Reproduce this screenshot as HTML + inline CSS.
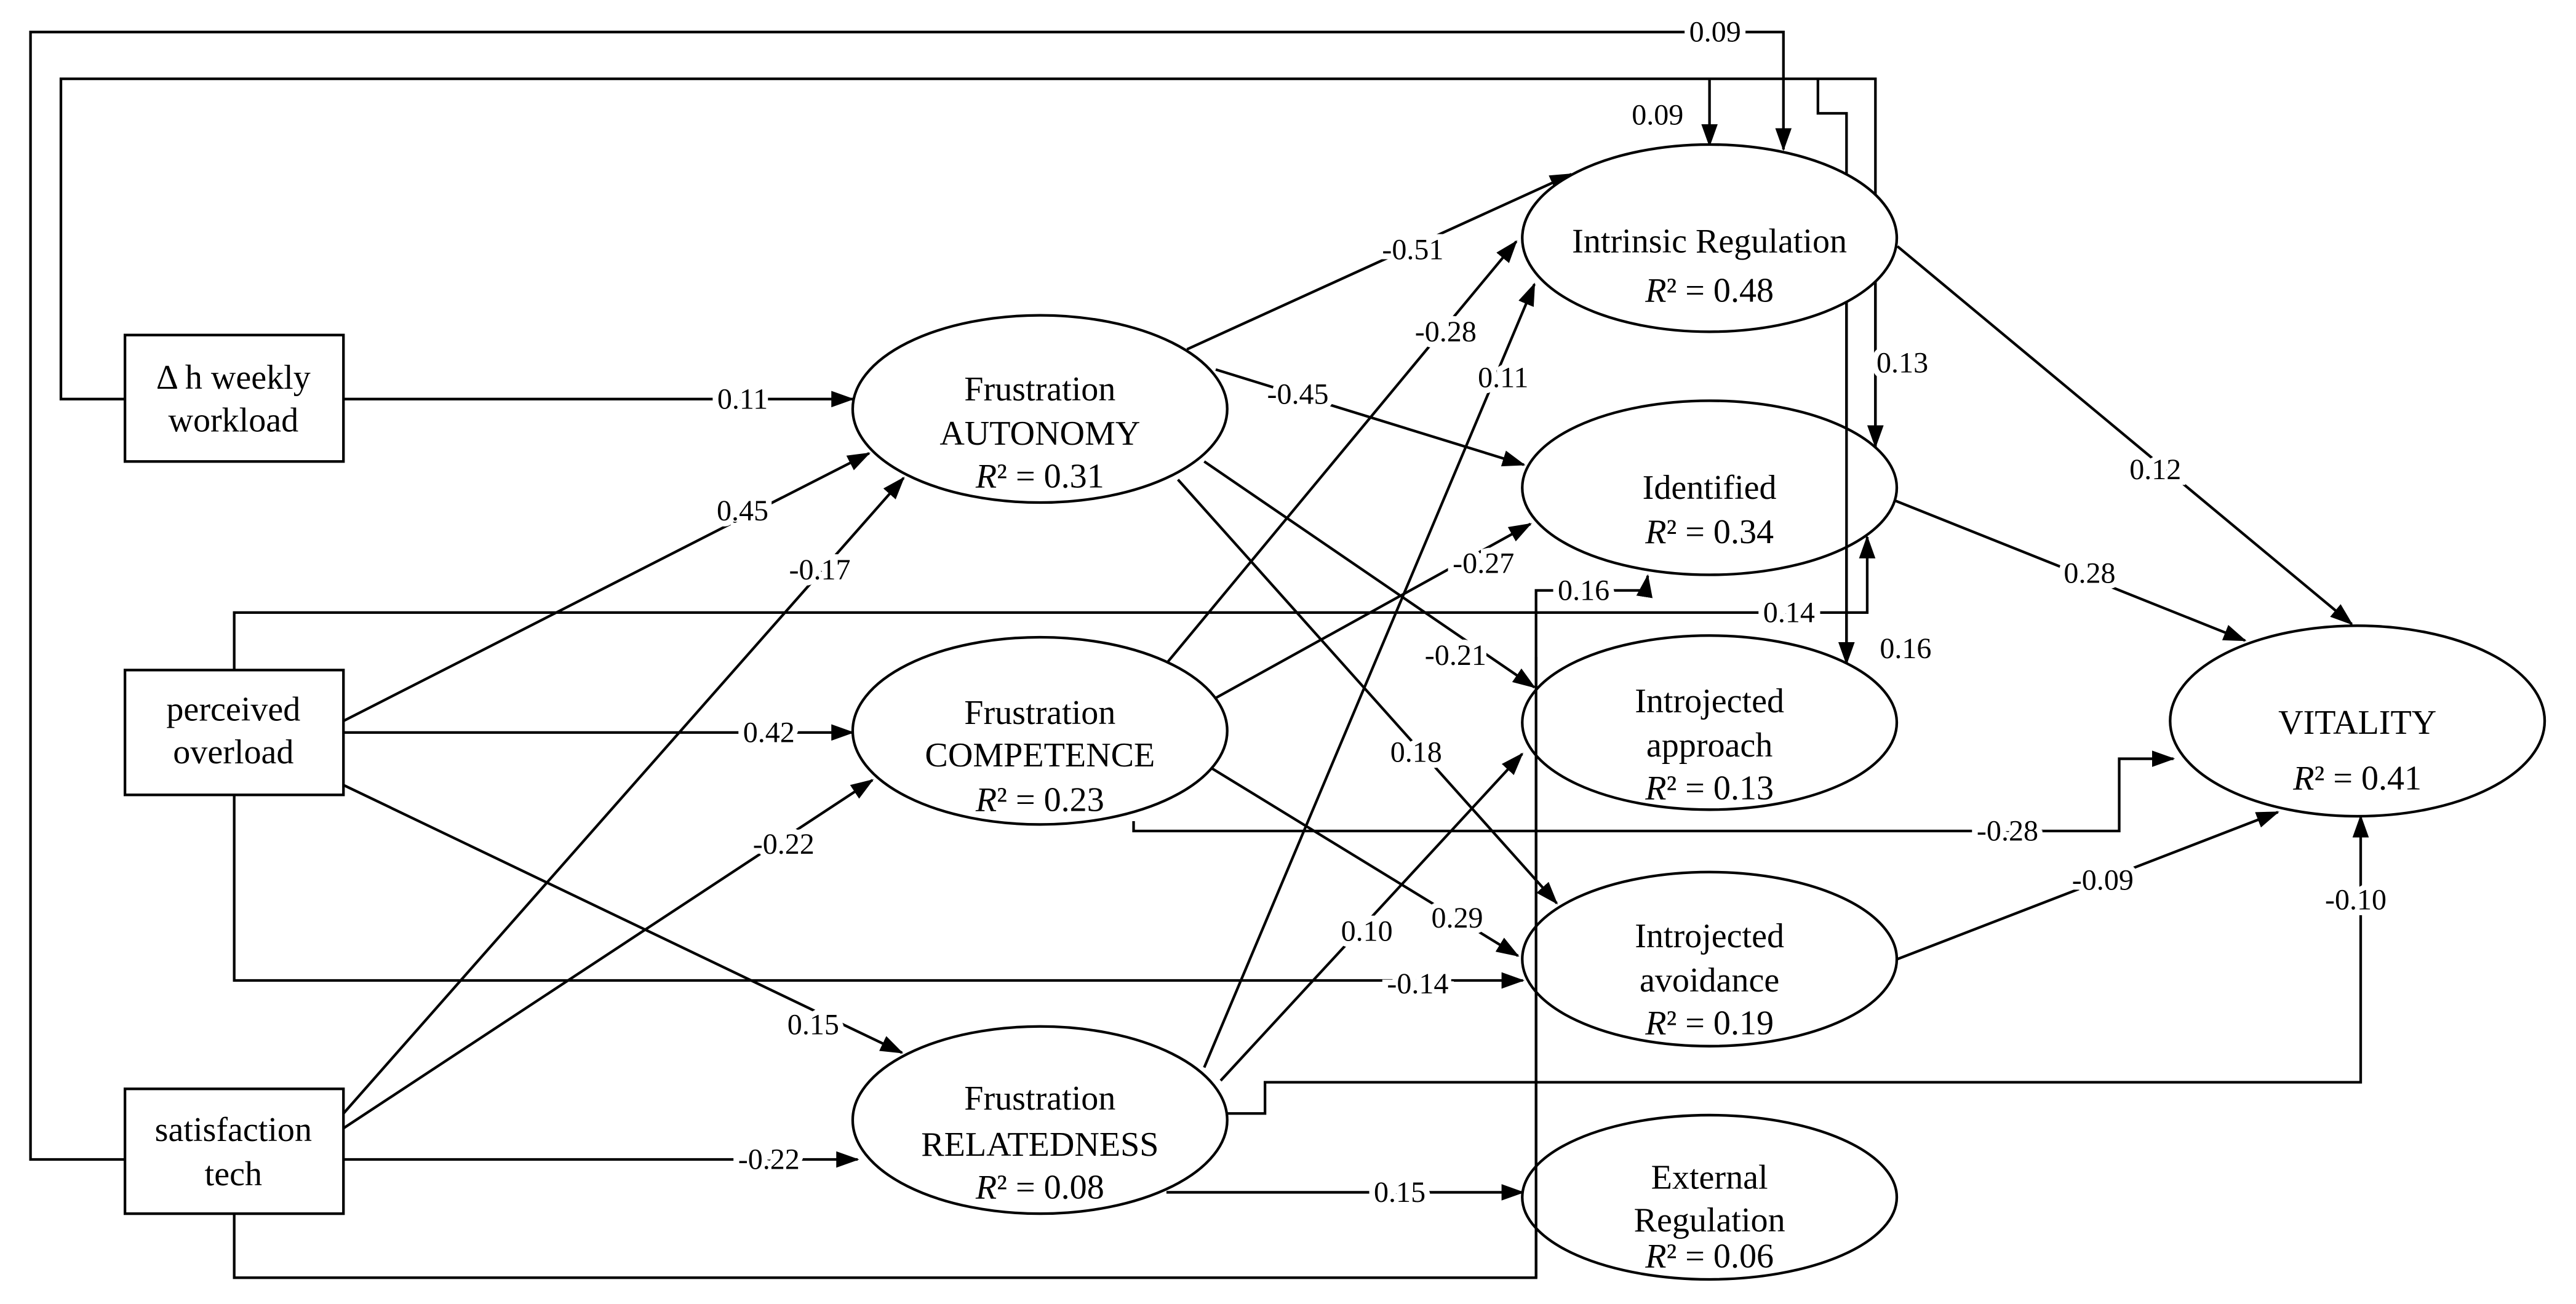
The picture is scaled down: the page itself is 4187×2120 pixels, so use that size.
<!DOCTYPE html>
<html><head><meta charset="utf-8"><style>
html,body{margin:0;padding:0;background:#fff;}
svg{display:block;}
text{font-family:"Liberation Serif",serif;fill:#000;}
.n{font-size:21px;text-anchor:middle;dominant-baseline:central;}
.l{font-size:18px;text-anchor:middle;dominant-baseline:central;stroke:#fff;stroke-width:7px;paint-order:stroke;}
</style></head><body>
<svg width="4187" height="2120" viewBox="0 0 1568 794" xmlns="http://www.w3.org/2000/svg">
<defs>
<marker id="a" markerUnits="userSpaceOnUse" markerWidth="14" markerHeight="10" refX="13" refY="5" orient="auto">
<path d="M0,0 L14,5 L0,10 z" fill="#000"/></marker>
</defs>
<rect width="1568" height="794" fill="#fff"/>
<g fill="none" stroke="#000" stroke-width="1.6">
<path d="M77,706 H18.5 V19.5 H1085.6 V91" marker-end="url(#a)"/>
<path d="M77,243 H37 V48 H1141.6 V272" marker-end="url(#a)"/>
<path d="M1040.6,48 V88.6" marker-end="url(#a)"/>
<path d="M1106.6,48 V69 H1124 V404" marker-end="url(#a)"/>
<path d="M142.5,408 V373 H1136.6 V327" marker-end="url(#a)"/>
<path d="M142.5,484 V597 H927" marker-end="url(#a)"/>
<path d="M142.5,739 V778 H935 V359.5 H1001.6 L1003,350.6" marker-end="url(#a)"/>
<path d="M209,243 H519" marker-end="url(#a)"/>
<path d="M209,439 L529,276" marker-end="url(#a)"/>
<path d="M209,678 L550,291" marker-end="url(#a)"/>
<path d="M209,446 H519" marker-end="url(#a)"/>
<path d="M209,687 L531,475" marker-end="url(#a)"/>
<path d="M209,478 L549,641" marker-end="url(#a)"/>
<path d="M209,706 H522" marker-end="url(#a)"/>
<path d="M722.5,212.7 L956.6,106" marker-end="url(#a)"/>
<path d="M740,225 L927.6,283" marker-end="url(#a)"/>
<path d="M733,281 L934,418.5" marker-end="url(#a)"/>
<path d="M717,292 L947.6,550" marker-end="url(#a)"/>
<path d="M710,404 L923,147" marker-end="url(#a)"/>
<path d="M740,425 L931.6,319" marker-end="url(#a)"/>
<path d="M733,465 L924,582" marker-end="url(#a)"/>
<path d="M690,500 V506 H1290 V462 H1323" marker-end="url(#a)"/>
<path d="M733,650 L934,173" marker-end="url(#a)"/>
<path d="M743,658 L926.6,459" marker-end="url(#a)"/>
<path d="M747,678 H770 V659 H1437 V497" marker-end="url(#a)"/>
<path d="M710,726 H927" marker-end="url(#a)"/>
<path d="M1155,150 L1431.6,380" marker-end="url(#a)"/>
<path d="M1154,305 L1366.6,390" marker-end="url(#a)"/>
<path d="M1155,584 L1386.6,494.5" marker-end="url(#a)"/>
</g>
<g fill="#fff" stroke="#000" stroke-width="1.6">
<rect x="76" y="204" width="133" height="77"/>
<rect x="76" y="408" width="133" height="76"/>
<rect x="76" y="663" width="133" height="76"/>
<ellipse cx="633" cy="249" rx="114" ry="57"/>
<ellipse cx="633" cy="445" rx="114" ry="57"/>
<ellipse cx="633" cy="682" rx="114" ry="57"/>
<ellipse cx="1040.6" cy="145" rx="114" ry="57"/>
<ellipse cx="1040.6" cy="297" rx="114" ry="53"/>
<ellipse cx="1040.6" cy="440" rx="114" ry="53"/>
<ellipse cx="1040.6" cy="584" rx="114" ry="53"/>
<ellipse cx="1040.6" cy="729" rx="114" ry="50"/>
<ellipse cx="1435" cy="439" rx="114" ry="58"/>
</g>
<g fill="none" stroke="#000" stroke-width="1.6">
<path d="M1141.6,172 V272"/>
<path d="M1124,184 V404"/>
<path d="M1136.6,340 V327"/>
<path d="M935,400 V778"/>
</g>
<g>
<text class="n" x="142" y="230">Δ h weekly</text>
<text class="n" x="142" y="256">workload</text>
<text class="n" x="142" y="432">perceived</text>
<text class="n" x="142" y="458">overload</text>
<text class="n" x="142" y="688">satisfaction</text>
<text class="n" x="142" y="715">tech</text>
<text class="n" x="633" y="237">Frustration</text>
<text class="n" x="633" y="264">AUTONOMY</text>
<text class="n" x="633" y="290"><tspan font-style="italic">R</tspan>² = 0.31</text>
<text class="n" x="633" y="434">Frustration</text>
<text class="n" x="633" y="460">COMPETENCE</text>
<text class="n" x="633" y="487"><tspan font-style="italic">R</tspan>² = 0.23</text>
<text class="n" x="633" y="669">Frustration</text>
<text class="n" x="633" y="697">RELATEDNESS</text>
<text class="n" x="633" y="723"><tspan font-style="italic">R</tspan>² = 0.08</text>
<text class="n" x="1040.6" y="147">Intrinsic Regulation</text>
<text class="n" x="1040.6" y="177"><tspan font-style="italic">R</tspan>² = 0.48</text>
<text class="n" x="1040.6" y="297">Identified</text>
<text class="n" x="1040.6" y="324"><tspan font-style="italic">R</tspan>² = 0.34</text>
<text class="n" x="1040.6" y="427">Introjected</text>
<text class="n" x="1040.6" y="454">approach</text>
<text class="n" x="1040.6" y="480"><tspan font-style="italic">R</tspan>² = 0.13</text>
<text class="n" x="1040.6" y="570">Introjected</text>
<text class="n" x="1040.6" y="597">avoidance</text>
<text class="n" x="1040.6" y="623"><tspan font-style="italic">R</tspan>² = 0.19</text>
<text class="n" x="1040.6" y="717">External</text>
<text class="n" x="1040.6" y="743">Regulation</text>
<text class="n" x="1040.6" y="765"><tspan font-style="italic">R</tspan>² = 0.06</text>
<text class="n" x="1435" y="440">VITALITY</text>
<text class="n" x="1435" y="474"><tspan font-style="italic">R</tspan>² = 0.41</text>
</g>
<g>
<text class="l" x="1044" y="19.5">0.09</text>
<text class="l" x="1009" y="70">0.09</text>
<text class="l" x="1158" y="221">0.13</text>
<text class="l" x="1160" y="395">0.16</text>
<text class="l" x="1089" y="373">0.14</text>
<text class="l" x="964" y="359.5">0.16</text>
<text class="l" x="452" y="243">0.11</text>
<text class="l" x="452" y="311">0.45</text>
<text class="l" x="499" y="347">-0.17</text>
<text class="l" x="468" y="446">0.42</text>
<text class="l" x="477" y="514">-0.22</text>
<text class="l" x="495" y="624">0.15</text>
<text class="l" x="468" y="706">-0.22</text>
<text class="l" x="863" y="599">-0.14</text>
<text class="l" x="860" y="152">-0.51</text>
<text class="l" x="790" y="240">-0.45</text>
<text class="l" x="886" y="399">-0.21</text>
<text class="l" x="862" y="458">0.18</text>
<text class="l" x="880" y="202">-0.28</text>
<text class="l" x="903" y="343">-0.27</text>
<text class="l" x="887" y="559">0.29</text>
<text class="l" x="1222" y="506">-0.28</text>
<text class="l" x="915" y="230">0.11</text>
<text class="l" x="832" y="567">0.10</text>
<text class="l" x="1434" y="548">-0.10</text>
<text class="l" x="852" y="726">0.15</text>
<text class="l" x="1312" y="286">0.12</text>
<text class="l" x="1272" y="349">0.28</text>
<text class="l" x="1280" y="536">-0.09</text>
</g>
</svg>
</body></html>
